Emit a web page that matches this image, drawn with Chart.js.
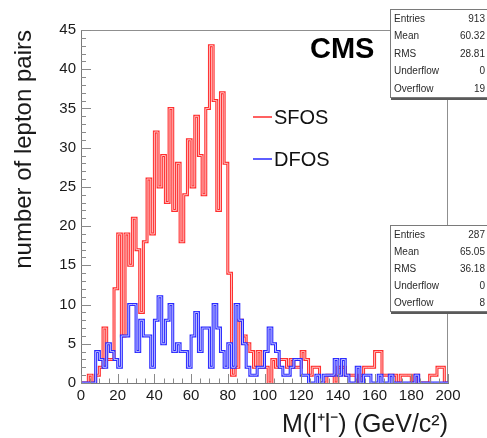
<!DOCTYPE html>
<html>
<head>
<meta charset="utf-8">
<script src="https://cdn.jsdelivr.net/npm/chart.js@4.4.0/dist/chart.umd.min.js"></script>
<style>
  html, body { margin: 0; padding: 0; background: #fff; }
  #wrap { position: relative; width: 487px; height: 438px; overflow: hidden; }
  canvas { display: block; }
  .stats { position: absolute; left: 390px; width: 104px; background: #fff;
           border: 1px solid #7a7a7a; box-shadow: 1px 2px 0 #5a5a5a;
           font-family: "Liberation Sans", Arial, sans-serif; font-size: 10px; color: #2a2a2a; }
  .stats .row { position: relative; padding-left: 3px; }
  .stats .row .v { position: absolute; right: 10px; top: 0; }
</style>
</head>
<body>
<div id="wrap">
  <canvas id="c" width="487" height="438"></canvas>
  <div class="stats" id="statsSFOS" style="top:9px;height:87px;"></div>
  <div class="stats" id="statsDFOS" style="top:225px;height:85px;"></div>
</div>
<script>
// ---- data (bins of 2 GeV from 0 to 200) ----
const binWidth = 2;
const sfosCounts = [
  0, 0, 1, 0, 1, 2, 7, 3, 3, 12,
  19, 6, 19, 15, 21, 17, 9, 18, 26, 19,
  32, 25, 29, 23, 35, 22, 28, 18, 24, 31,
  25, 34, 29, 24, 35, 43, 36, 22, 37, 28,
  14, 1, 2, 8, 6, 5, 4, 2, 4, 2,
  2, 0, 3, 2, 3, 3, 2, 3, 2, 2,
  4, 3, 1, 2, 2, 0, 0, 1, 1, 0,
  2, 2, 1, 1, 1, 0, 1, 2, 2, 2,
  4, 4, 1, 1, 1, 1, 0, 1, 1, 1,
  0, 1, 0, 0, 0, 1, 1, 2, 2, 0
];
const dfosCounts = [
  0, 0, 0, 0, 4, 3, 2, 5, 4, 3,
  2, 6, 6, 10, 10, 4, 8, 6, 6, 2,
  8, 11, 5, 8, 10, 4, 5, 4, 4, 2,
  6, 9, 4, 7, 7, 2, 10, 7, 4, 2,
  5, 2, 10, 8, 5, 2, 1, 1, 2, 2,
  4, 7, 5, 4, 2, 1, 1, 2, 3, 3,
  1, 1, 0, 0, 1, 0, 1, 1, 1, 3,
  1, 3, 1, 0, 0, 2, 0, 1, 1, 0,
  0, 1, 0, 0, 1, 0, 0, 0, 0, 0,
  0, 1, 0, 0, 0, 0, 0, 0, 0, 0
];
const seriesLabels = ['SFOS', 'DFOS'];
const xTickValues = [0, 20, 40, 60, 80, 100, 120, 140, 160, 180, 200];
const yTickValues = [0, 5, 10, 15, 20, 25, 30, 35, 40, 45];
const statNames = ['Entries', 'Mean', 'RMS', 'Underflow', 'Overflow'];
const sfosStats = ['913', '60.32', '28.81', '0', '19'];
const dfosStats = ['287', '65.05', '36.18', '0', '8'];
const xTitle = 'M(l\u207Al\u207B) (GeV/c\u00B2)';
const yTitle = 'number of lepton pairs';
const experimentLabel = 'CMS';

// histogram outline points (left bin edge, count), closed at the last edge
function stepPoints(counts) {
  const pts = counts.map((v, i) => ({ x: i * binWidth, y: v }));
  const end = counts.length * binWidth;
  pts.push({ x: end, y: counts[counts.length - 1] });
  pts.push({ x: end, y: 0 });
  return pts;
}

const RED = 'rgb(255,45,45)', RED_IN = 'rgb(255,190,190)';
const BLUE = 'rgb(40,40,255)', BLUE_IN = 'rgb(190,190,255)';

function ds(label, counts, color, width, order, legend) {
  return { label, data: stepPoints(counts), borderColor: color, borderWidth: width,
           stepped: true, pointRadius: 0, fill: false, order, isLegend: legend,
           borderJoinStyle: 'miter', borderCapStyle: 'butt' };
}

const FONT = '"Liberation Sans", Arial, sans-serif';

const rootPlugin = {
  id: 'rootStyle',
  beforeDatasetsDraw(chart) {
    const { ctx, chartArea: a } = chart;
    ctx.save();
    ctx.strokeStyle = '#8f8f8f'; ctx.lineWidth = 1;
    ctx.beginPath();
    ctx.moveTo(a.left, Math.round(a.top) + 0.5); ctx.lineTo(a.right, Math.round(a.top) + 0.5);
    ctx.moveTo(Math.round(a.right) - 0.5, a.top); ctx.lineTo(Math.round(a.right) - 0.5, a.bottom);
    ctx.stroke();
    ctx.restore();
  },
  afterDatasetsDraw(chart) {
    const { ctx, chartArea: a, scales: { x, y } } = chart;
    ctx.save();
    ctx.strokeStyle = '#8a8a8a'; ctx.lineWidth = 1;
    ctx.beginPath();
    for (let v = 0; v <= 200; v += 5) {
      const px = Math.round(x.getPixelForValue(v)) + 0.5;
      const len = (v % 20 === 0) ? 9 : 4.5;
      ctx.moveTo(px, a.bottom); ctx.lineTo(px, a.bottom - len);
    }
    for (let v = 0; v <= 45; v += 1) {
      const py = Math.round(y.getPixelForValue(v)) + 0.5;
      const len = (v % 5 === 0) ? 10 : 5;
      ctx.moveTo(a.left, py); ctx.lineTo(a.left + len, py);
    }
    ctx.stroke();
    ctx.restore();
  },
  afterDraw(chart) {
    const { ctx } = chart;
    ctx.save();
    // legend
    const legendY = [117, 159];
    chart.data.datasets.filter(d => d.isLegend).forEach((d, i) => {
      ctx.strokeStyle = d.borderColor; ctx.lineWidth = 1.5;
      ctx.beginPath(); ctx.moveTo(253, legendY[i]); ctx.lineTo(272, legendY[i]); ctx.stroke();
      ctx.fillStyle = '#111'; ctx.font = '20px ' + FONT;
      ctx.textBaseline = 'middle'; ctx.textAlign = 'left';
      ctx.fillText(d.label, 274, legendY[i] + 1);
    });
    // experiment label
    ctx.fillStyle = '#000'; ctx.font = 'bold 29px ' + FONT;
    ctx.textBaseline = 'middle'; ctx.textAlign = 'left';
    ctx.fillText(experimentLabel, 310, 50);
    ctx.restore();
  }
};

new Chart(document.getElementById('c'), {
  type: 'line',
  data: {
    datasets: [
      ds(seriesLabels[0], sfosCounts, RED, 3, 4, true),
      ds('', sfosCounts, RED_IN, 1, 3, false),
      ds(seriesLabels[1], dfosCounts, BLUE, 3, 2, true),
      ds('', dfosCounts, BLUE_IN, 1, 1, false)
    ]
  },
  options: {
    responsive: false,
    devicePixelRatio: 1,
    animation: false,
    layout: { padding: { left: 0, top: 30, right: 39, bottom: 0 } },
    plugins: { legend: { display: false }, tooltip: { enabled: false } },
    scales: {
      x: {
        type: 'linear', min: 0, max: 200,
        afterBuildTicks: s => { s.ticks = xTickValues.map(v => ({ value: v })); },
        afterFit: s => { s.height = 55; },
        grid: { display: false, drawTicks: false },
        border: { display: true, color: '#7a7a7a', width: 1 },
        ticks: { font: { family: FONT, size: 15 }, color: '#1a1a1a', padding: 4, maxRotation: 0 },
        title: { display: true, text: xTitle, align: 'end', color: '#1a1a1a',
                 font: { family: FONT, size: 25, lineHeight: 1 }, padding: { top: 0, bottom: 0 } }
      },
      y: {
        type: 'linear', min: 0, max: 45,
        afterBuildTicks: s => { s.ticks = yTickValues.map(v => ({ value: v })); },
        afterFit: s => { s.width = 81; },
        grid: { display: false, drawTicks: false },
        border: { display: true, color: '#7a7a7a', width: 1 },
        ticks: { font: { family: FONT, size: 15 }, color: '#1a1a1a', padding: 5 },
        title: { display: true, text: yTitle, align: 'end', color: '#1a1a1a',
                 font: { family: FONT, size: 24, lineHeight: 1 }, padding: { top: 12, bottom: 0 } }
      }
    }
  },
  plugins: [rootPlugin]
});

// statistics boxes
function fillStats(id, values, pitch) {
  const box = document.getElementById(id);
  statNames.forEach((n, i) => {
    const row = document.createElement('div');
    row.className = 'row';
    row.style.height = pitch + 'px';
    row.style.lineHeight = pitch + 'px';
    row.innerHTML = '<span>' + n + '</span><span class="v">' + values[i] + '</span>';
    box.appendChild(row);
  });
}
fillStats('statsSFOS', sfosStats, 17.4);
fillStats('statsDFOS', dfosStats, 17);
</script>
</body>
</html>
